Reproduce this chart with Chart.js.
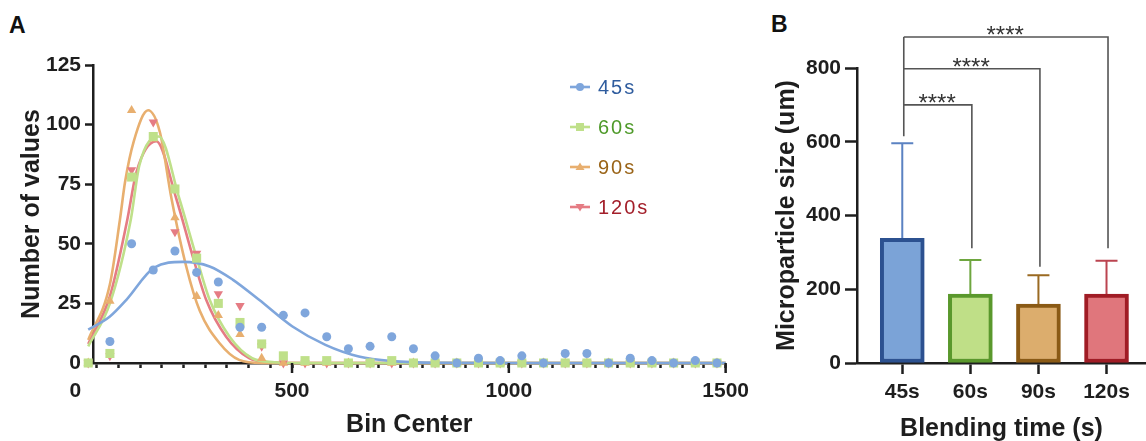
<!DOCTYPE html>
<html>
<head>
<meta charset="utf-8">
<script src="https://cdn.jsdelivr.net/npm/chart.js@4.4.1/dist/chart.umd.min.js"></script>
<style>
  body { margin: 0; background: #fff; width: 1146px; height: 441px; overflow: hidden; position: relative; font-family: Arial, "Liberation Sans", sans-serif; }
  #boxA { position: absolute; left: 0; top: 0; width: 760px; height: 441px; }
  #boxB { position: absolute; left: 760px; top: 0; width: 386px; height: 441px; }
  .tag { position: absolute; font-weight: bold; font-size: 23px; line-height: 23px; color: #111; }
  #legend { position: absolute; left: 570px; top: 67px; }
  .item { height: 40px; display: flex; align-items: center; font-size: 20px; letter-spacing: 2px; }
  .item svg { margin-right: 8px; }
</style>
</head>
<body>
<div class="tag" style="left:9px;top:14px">A</div>
<div class="tag" style="left:771px;top:13px">B</div>
<div id="boxA"><canvas id="chartA"></canvas></div>
<div id="boxB"><canvas id="chartB"></canvas></div>
<div id="legend"></div>
<script>
// ---- panel A : frequency distribution ----
const binCenters = [30, 80, 130, 180, 230, 280, 330, 380, 430, 480, 530, 580, 630, 680, 730,
  780, 830, 880, 930, 980, 1030, 1080, 1130, 1180, 1230, 1280, 1330, 1380, 1430, 1480];
const counts45 = [0, 9, 50, 39, 47, 38, 34, 15, 15, 20, 21, 11, 6, 7, 11, 6, 3, 0, 2, 1, 3, 0, 4, 4, 0, 2, 1, 0, 1, 0];
const counts60 = [0, 4, 78, 95, 73, 44, 25, 17, 8, 3, 1, 1, 0, 0, 1, 0, 0, 0, 0, 0, 0, 0, 0, 0, 0, 0, 0, 0, 0, 0];
const counts90 = [0, 26, 106, 94, 61, 28, 20, 12, 2, 0, 0, 0, 0, 0, 0, 0, 0, 0, 0, 0, 0, 0, 0, 0, 0, 0, 0, 0, 0, 0];
const counts120 = [0, 3, 81, 101, 55, 46, 29, 24, 7, 0, 0, 0, 0, 0, 0, 0, 0, 0, 0, 0, 0, 0, 0, 0, 0, 0, 0, 0, 0, 0];

// fitted curves
const fitX45 = [30, 80, 118, 182, 248, 310, 363, 424, 501, 577, 654, 730, 850, 1000, 1500];
const fitY45 = [14, 19.5, 26.5, 40, 42.4, 40.5, 35, 26.5, 15.3, 7.6, 2.7, 0.8, 0.1, 0, 0];
const fitX60 = [30, 80, 128, 148, 193, 240, 279, 310, 356, 408, 460, 510, 1500];
const fitY60 = [7, 25, 60, 83, 95, 69, 44.7, 26.5, 11, 2, 0.3, 0, 0];
const fitX90 = [30, 80, 103, 115, 135, 168, 195, 222, 256, 287, 333, 378, 430, 1500];
const fitY90 = [9.7, 33, 60, 76, 93, 106, 97, 69, 40.5, 22, 8.3, 1.3, 0, 0];
const fitX120 = [30, 80, 120, 141, 187, 233, 271, 302, 348, 401, 450, 500, 1500];
const fitY120 = [8, 28, 60, 80, 93, 69, 44.7, 26.5, 11, 2, 0.3, 0, 0];

const seriesNames = ['45s', '60s', '90s', '120s'];
const xTicksA = [0, 50, 100, 150, 200, 250, 300, 350, 400, 450, 500, 550, 600, 650, 700, 750,
  800, 850, 900, 950, 1000, 1050, 1100, 1150, 1200, 1250, 1300, 1350, 1400, 1450, 1500];
const xTickLabels = [0, 500, 1000, 1500];
const yTicksA = [0, 25, 50, 75, 100, 125];

// ---- panel B : bar chart ----
const groups = ['45s', '60s', '90s', '120s'];
const meanSize = [338, 187, 160, 187];
const sdSize = [258, 92, 78, 90];
const yTicksB = [0, 200, 400, 600, 800];
const comparisons = [[0, 1], [0, 2], [0, 3]];
const sigLabels = ['****', '****', '****'];

// styles
const markColor = ['#7fa6dc', '#bfe08a', '#e8af6f', '#e57c84'];
const textColor = ['#2f5c9e', '#4f9a2a', '#9a6418', '#a31f2a'];
const pointShape = ['circle', 'rect', 'triangle', 'triangle'];
const pointRot = [0, 0, 0, 180];
const pointSize = [4.5, 6.4, 5.4, 5.4];
const barFill = ['#7ba3d7', '#bfdf87', '#dcad6d', '#e0767c'];
const barEdge = ['#2c5190', '#5a982c', '#8a5a15', '#a01c25'];
const errColor = ['#5b82c2', '#6ea63f', '#9a6a22', '#bb4450'];
const bracketLevel = [700, 798, 884];
const bracketDrop = [311, 261, 311];
const bracketFoot = 615;
const yAxisCrossA = 41; // the y axis of panel A crosses a little right of 0
const ink = '#1e1e1e';

const counts = [counts45, counts60, counts90, counts120];
const fitsX = [fitX45, fitX60, fitX90, fitX120];
const fitsY = [fitY45, fitY60, fitY90, fitY120];

Chart.defaults.font.family = 'Arial, "Liberation Sans", sans-serif';
Chart.defaults.color = ink;

const datasetsA = [];
seriesNames.forEach((name, s) => {
  datasetsA.push({
    label: name,
    data: binCenters.map((x, i) => ({ x: x, y: counts[s][i] })),
    showLine: false,
    pointStyle: pointShape[s],
    rotation: pointRot[s],
    pointRadius: pointSize[s],
    pointBackgroundColor: markColor[s],
    pointBorderWidth: 0,
    clip: false,
    order: s + 1
  });
});
seriesNames.forEach((name, s) => {
  datasetsA.push({
    label: name + ' fit',
    data: fitsX[s].map((x, i) => ({ x: x, y: fitsY[s][i] })),
    showLine: true,
    cubicInterpolationMode: 'monotone',
    borderColor: markColor[s],
    borderWidth: 2.6,
    pointRadius: 0,
    clip: false,
    order: s === 0 ? 10 : 20 + s
  });
});

// longer tick marks under the labelled values
const majorTicks = {
  id: 'majorTicks',
  afterDraw(chart) {
    const { ctx, scales: { x } } = chart;
    ctx.save();
    ctx.strokeStyle = ink;
    ctx.lineWidth = 2.5;
    xTickLabels.forEach(v => {
      if (v < yAxisCrossA) return;
      const px = x.getPixelForValue(v);
      ctx.beginPath();
      ctx.moveTo(px, x.top);
      ctx.lineTo(px, x.top + 10);
      ctx.stroke();
    });
    ctx.restore();
  }
};

new Chart(document.getElementById('chartA'), {
  type: 'scatter',
  data: { datasets: datasetsA },
  options: {
    responsive: true,
    maintainAspectRatio: false,
    animation: false,
    layout: { padding: { top: 65, right: 31, left: 0, bottom: 0 } },
    plugins: { legend: { display: false }, tooltip: { enabled: false } },
    scales: {
      x: {
        type: 'linear', min: yAxisCrossA, max: 1500,
        afterBuildTicks: s => { s.ticks = xTicksA.map(v => ({ value: v })); },
        ticks: {
          autoSkip: false, maxRotation: 0, padding: 11,
          font: { size: 21, weight: 'bold' }, color: ink,
          callback: v => (xTickLabels.includes(v) ? String(v) : '')
        },
        grid: {
          drawOnChartArea: false, tickLength: 5, tickWidth: 2.5,
          tickColor: c => (c.tick && c.tick.value < yAxisCrossA ? 'rgba(0,0,0,0)' : ink)
        },
        border: { color: ink, width: 2.5 },
        title: { display: true, text: 'Bin Center', font: { size: 25, weight: 'bold' }, color: ink, padding: { top: 0, bottom: 1 } },
        afterFit: s => { s.height = 78; }
      },
      y: {
        type: 'linear', position: 'left', min: 0, max: 125,
        afterBuildTicks: s => { s.ticks = yTicksA.map(v => ({ value: v })); },
        ticks: { font: { size: 21, weight: 'bold' }, color: ink, padding: 4 },
        grid: { drawOnChartArea: false, tickLength: 8, tickWidth: 2.5, tickColor: ink },
        border: { color: ink, width: 2.5 },
        title: { display: true, text: 'Number of values', font: { size: 25, weight: 'bold' }, color: ink, padding: { top: 17, bottom: 0 } },
        afterFit: s => { s.width = 93; }
      }
    }
  },
  plugins: [majorTicks]
});

// legend for panel A
const legend = document.getElementById('legend');
seriesNames.forEach((name, s) => {
  const c = markColor[s];
  let mark = '';
  if (s === 0) mark = `<circle cx="10" cy="7" r="4" fill="${c}"/>`;
  if (s === 1) mark = `<rect x="6" y="3" width="8" height="8" fill="${c}"/>`;
  if (s === 2) mark = `<polygon points="10,2.5 14.5,10 5.5,10" fill="${c}"/>`;
  if (s === 3) mark = `<polygon points="10,11.5 14.5,4 5.5,4" fill="${c}"/>`;
  const row = document.createElement('div');
  row.className = 'item';
  row.style.color = textColor[s];
  row.innerHTML = `<svg width="20" height="14"><line x1="0" y1="7" x2="20" y2="7" stroke="${c}" stroke-width="2.6"/>${mark}</svg><span>${name}</span>`;
  legend.appendChild(row);
});

// ---- panel B ----
const errorBars = {
  id: 'errorBars',
  beforeDatasetsDraw(chart) {
    const { ctx, scales: { x, y } } = chart;
    ctx.save();
    ctx.lineWidth = 2;
    groups.forEach((g, i) => {
      const px = x.getPixelForValue(i);
      const top = y.getPixelForValue(meanSize[i] + sdSize[i]);
      ctx.strokeStyle = errColor[i];
      ctx.beginPath();
      ctx.moveTo(px, y.getPixelForValue(meanSize[i]));
      ctx.lineTo(px, top);
      ctx.moveTo(px - 11, top);
      ctx.lineTo(px + 11, top);
      ctx.stroke();
    });
    ctx.restore();
  }
};

const brackets = {
  id: 'brackets',
  afterDraw(chart) {
    const { ctx, scales: { x, y } } = chart;
    const x0 = x.getPixelForValue(0) + 1.5;
    ctx.save();
    ctx.strokeStyle = '#555';
    ctx.lineWidth = 1.6;
    ctx.beginPath();
    ctx.moveTo(x0, y.getPixelForValue(bracketFoot));
    ctx.lineTo(x0, y.getPixelForValue(bracketLevel[bracketLevel.length - 1]));
    comparisons.forEach(([a, b], k) => {
      const yl = y.getPixelForValue(bracketLevel[k]);
      const xb = x.getPixelForValue(b) + 1.5;
      ctx.moveTo(x0, yl);
      ctx.lineTo(xb, yl);
      ctx.lineTo(xb, y.getPixelForValue(bracketDrop[k]));
    });
    ctx.stroke();
    ctx.fillStyle = '#333';
    ctx.font = '24px Arial, "Liberation Sans", sans-serif';
    ctx.textAlign = 'center';
    ctx.textBaseline = 'alphabetic';
    comparisons.forEach(([a, b], k) => {
      const yl = y.getPixelForValue(bracketLevel[k]);
      const xb = x.getPixelForValue(b);
      ctx.fillText(sigLabels[k], (x0 + xb) / 2, yl + 6);
    });
    ctx.restore();
  }
};

new Chart(document.getElementById('chartB'), {
  type: 'bar',
  data: {
    datasets: [{
      label: 'Microparticle size',
      data: groups.map((g, i) => ({ x: i, y: meanSize[i] })),
      backgroundColor: barFill,
      borderColor: barEdge,
      borderWidth: 4,
      borderSkipped: false,
      barThickness: 44
    }]
  },
  options: {
    responsive: true,
    maintainAspectRatio: false,
    animation: false,
    layout: { padding: { top: 68, right: 0, left: 0, bottom: 0 } },
    plugins: { legend: { display: false }, tooltip: { enabled: false } },
    scales: {
      x: {
        type: 'linear', min: -0.665, max: 3.58, offset: false,
        afterBuildTicks: s => { s.ticks = groups.map((g, i) => ({ value: i })); },
        ticks: { font: { size: 21, weight: 'bold' }, color: ink, padding: 6, callback: v => groups[v] },
        grid: { offset: false, drawOnChartArea: false, tickLength: 11, tickWidth: 2.5, tickColor: ink },
        border: { color: ink, width: 2.5 },
        title: { display: true, text: 'Blending time (s)', font: { size: 25, weight: 'bold' }, color: ink, padding: { top: 0, bottom: -3 } },
        afterFit: s => { s.height = 78; }
      },
      y: {
        min: 0, max: 800,
        afterBuildTicks: s => { s.ticks = yTicksB.map(v => ({ value: v })); },
        ticks: { font: { size: 21, weight: 'bold' }, color: ink, padding: 4 },
        grid: { drawOnChartArea: false, tickLength: 12, tickWidth: 2.5, tickColor: ink },
        border: { color: ink, width: 2.5 },
        title: { display: true, text: 'Microparticle size (um)', font: { size: 25, weight: 'bold' }, color: ink, padding: { top: 12, bottom: 0 } },
        afterFit: s => { s.width = 97; }
      }
    }
  },
  plugins: [errorBars, brackets]
});
</script>
</body>
</html>
